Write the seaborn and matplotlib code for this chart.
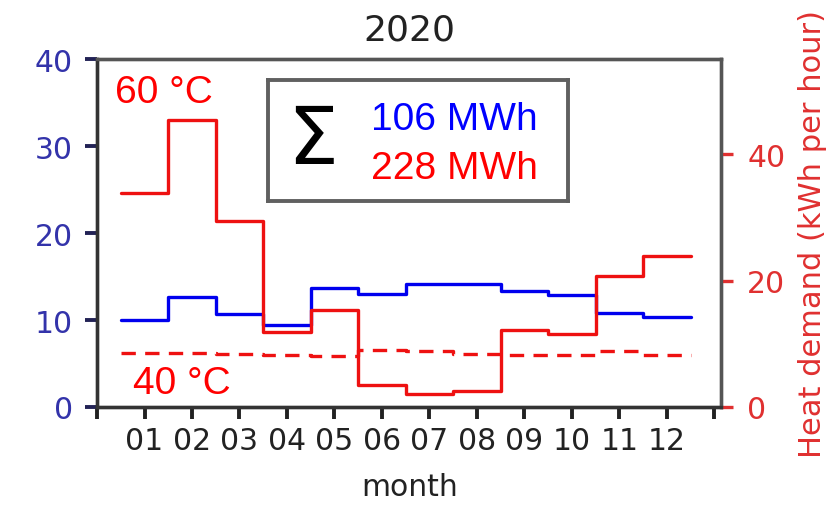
import numpy as np
import pandas as pd
import matplotlib
matplotlib.use("Agg")
import matplotlib.pyplot as plt
import seaborn as sns

# Monthly data, 2020
months = np.arange(1, 13)
month_labels = ["01", "02", "03", "04", "05", "06", "07", "08", "09", "10", "11", "12"]
supply_kw = [10.0, 12.7, 10.7, 9.4, 13.7, 13.0, 14.2, 14.2, 13.3, 12.9, 10.8, 10.4]
demand_60c = [33.8, 45.4, 29.4, 11.9, 15.4, 3.5, 2.1, 2.6, 12.2, 11.5, 20.7, 23.9]
demand_40c = [8.5, 8.5, 8.4, 8.2, 8.1, 9.0, 8.9, 8.4, 8.2, 8.2, 8.9, 8.2]
total_supply = "106 MWh"
total_demand = "228 MWh"

sns.set_theme(style="ticks")
plt.rcParams["font.family"] = ["DejaVu Sans"]

BLUE = "#0000ee"
RED = "#ee1111"
LEFT_TICK = "#3333aa"
RIGHT_TICK = "#e03030"
TICK_FS = 21.5


def step_frame(values):
    # month bins from m-0.5 to m+0.5, last value repeated to close the final step
    edges = np.append(months - 0.5, months[-1] + 0.5)
    vals = np.append(values, values[-1])
    return pd.DataFrame({"x": edges, "y": vals})


fig = plt.figure(figsize=(8.33, 5.06), dpi=100)
ax = fig.add_axes([0.1165, 0.1937, 0.866 - 0.1165, 0.881 - 0.1937])
ax2 = ax.twinx()

sns.lineplot(data=step_frame(supply_kw), x="x", y="y", ax=ax, color=BLUE,
             lw=2.4, drawstyle="steps-post")
sns.lineplot(data=step_frame(demand_60c), x="x", y="y", ax=ax2, color=RED,
             lw=2.4, drawstyle="steps-post")
sns.lineplot(data=step_frame(demand_40c), x="x", y="y", ax=ax2, color=RED,
             lw=2.4, ls=(0, (4.3, 2.8)), drawstyle="steps-post")

ax.set_xlim(0, 13.15)
ax.set_ylim(0, 40)
ax2.set_ylim(0, 55)

ax.set_xticks(np.arange(0, 14))
ax.set_xticklabels([""] + month_labels + [""])
ax.set_yticks([0, 10, 20, 30, 40])
ax2.set_yticks([0, 20, 40])

ax.set_xlabel("month", fontsize=TICK_FS, color="#222222", labelpad=12)
ax.set_ylabel("")
ax2.set_ylabel("Heat demand (kWh per hour)", fontsize=22,
               color=RIGHT_TICK, labelpad=9)
ax.set_title("2020", fontsize=26, color="#222222", pad=14)

ax.tick_params(axis="x", labelsize=TICK_FS, labelcolor="#222222", length=8.5,
               width=2.8, color="#222222", direction="out", pad=5.5)
ax.tick_params(axis="y", labelsize=TICK_FS, labelcolor=LEFT_TICK, length=8.5,
               width=2.8, color="#222255", pad=9)
ax2.tick_params(axis="y", labelsize=TICK_FS, labelcolor=RIGHT_TICK, length=8.5,
                width=2.4, color=RIGHT_TICK, pad=10)

for a in (ax, ax2):
    for name, sp in a.spines.items():
        sp.set_visible(True)
        sp.set_linewidth(2.4)
        sp.set_color("#555555" if name in ("top", "right") else "#333333")

# Temperature level labels
ax.text(0.028, 0.906, "60 °C", transform=ax.transAxes, fontsize=28,
        color="#ff0000", family="Liberation Sans", va="center", ha="left")
ax.text(0.057, 0.07, "40 °C", transform=ax.transAxes, fontsize=28,
        color="#ff0000", family="Liberation Sans", va="center", ha="left")

# Annual totals box
box_ax = fig.add_axes([268 / 833, 1 - 202 / 506, 300 / 833, 121 / 506])
box_ax.set_xticks([])
box_ax.set_yticks([])
for sp in box_ax.spines.values():
    sp.set_color("#606060")
    sp.set_linewidth(2.8)
box_ax.text(0.147, 0.5, "Σ", fontsize=58, color="black", ha="center",
            va="center", family="DejaVu Sans", transform=box_ax.transAxes)
box_ax.text(0.9, 0.68, total_supply, fontsize=28, color="#0000ff", ha="right",
            va="center", family="Liberation Sans", transform=box_ax.transAxes)
box_ax.text(0.9, 0.27, total_demand, fontsize=28, color="#ff0000", ha="right",
            va="center", family="Liberation Sans", transform=box_ax.transAxes)

fig.savefig("out.png", dpi=100)
